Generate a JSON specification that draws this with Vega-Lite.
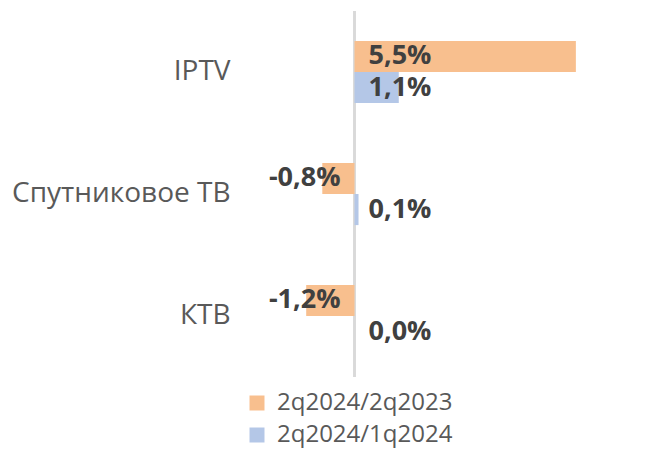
{
  "$schema": "https://vega.github.io/schema/vega-lite/v6.json",
  "width": 322,
  "height": 366,
  "autosize": {"type": "none"},
  "padding": {"left": 274, "top": 11, "right": 70, "bottom": 72},
  "background": "white",
  "config": {"view": {"stroke": null}},
  "data": {"values": [
    {"cat": "IPTV", "series": "2q2024/2q2023", "value": 5.5, "label": "5,5%"},
    {"cat": "IPTV", "series": "2q2024/1q2024", "value": 1.1, "label": "1,1%"},
    {"cat": "Спутниковое ТВ", "series": "2q2024/2q2023", "value": -0.8, "label": "-0,8%"},
    {"cat": "Спутниковое ТВ", "series": "2q2024/1q2024", "value": 0.1, "label": "0,1%"},
    {"cat": "КТВ", "series": "2q2024/2q2023", "value": -1.2, "label": "-1,2%"},
    {"cat": "КТВ", "series": "2q2024/1q2024", "value": 0.0, "label": "0,0%"}
  ]},
  "layer": [
    {
      "mark": {"type": "rule", "color": "#D9D9D9", "strokeWidth": 2},
      "encoding": {
        "x": {"datum": 0, "type": "quantitative", "scale": {"domain": [-2, 6], "nice": false}, "axis": null}
      }
    },
    {
      "mark": {"type": "bar"},
      "encoding": {
        "y": {"field": "cat", "type": "nominal", "sort": null,
          "scale": {"paddingInner": 0.49, "paddingOuter": 0.245},
          "axis": {"title": null, "domain": false, "ticks": false, "labelFont": "Open Sans", "labelFontSize": 28, "labelColor": "#595959", "labelPadding": 44, "labelLimit": 400}},
        "yOffset": {"field": "series", "type": "nominal", "sort": ["2q2024/2q2023", "2q2024/1q2024"], "scale": {"paddingInner": 0, "paddingOuter": 0}},
        "x": {"field": "value", "type": "quantitative", "scale": {"domain": [-2, 6], "nice": false}, "axis": null},
        "color": {"field": "series", "type": "nominal", "sort": ["2q2024/2q2023", "2q2024/1q2024"],
          "scale": {"domain": ["2q2024/2q2023", "2q2024/1q2024"], "range": ["#F8BF8E", "#B4C7E7"]},
          "legend": {"title": null, "orient": "none", "legendX": -29, "legendY": 380, "symbolType": "square", "symbolSize": 225, "symbolStrokeWidth": 0, "labelFont": "Open Sans", "labelFontSize": 24, "labelColor": "#595959", "labelOffset": 8, "rowPadding": 8, "labelLimit": 400}}
      }
    },
    {
      "transform": [{"filter": "datum.value >= 0"}],
      "mark": {"type": "text", "align": "left", "baseline": "middle", "dx": 14, "font": "Open Sans", "fontWeight": "bold", "fontSize": 27, "color": "#404040"},
      "encoding": {
        "y": {"field": "cat", "type": "nominal", "sort": null},
        "yOffset": {"field": "series", "type": "nominal", "sort": ["2q2024/2q2023", "2q2024/1q2024"]},
        "x": {"datum": 0, "type": "quantitative"},
        "text": {"field": "label"}
      }
    },
    {
      "transform": [{"filter": "datum.value < 0"}],
      "mark": {"type": "text", "align": "right", "baseline": "middle", "dx": -14, "font": "Open Sans", "fontWeight": "bold", "fontSize": 27, "color": "#404040"},
      "encoding": {
        "y": {"field": "cat", "type": "nominal", "sort": null},
        "yOffset": {"field": "series", "type": "nominal", "sort": ["2q2024/2q2023", "2q2024/1q2024"]},
        "x": {"datum": 0, "type": "quantitative"},
        "text": {"field": "label"}
      }
    }
  ]
}
